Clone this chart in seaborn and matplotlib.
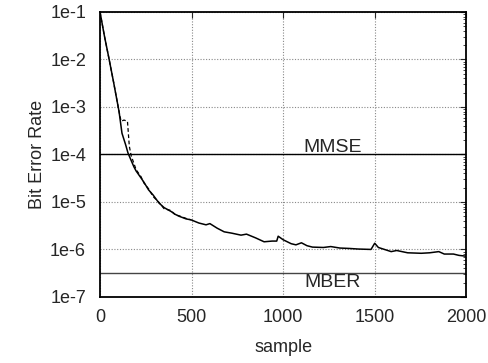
import numpy as np
import pandas as pd
import matplotlib
matplotlib.use("Agg")
import matplotlib.pyplot as plt
from matplotlib.ticker import LogLocator, NullFormatter
import seaborn as sns

# ------------------------------------------------------------
# Data
# ------------------------------------------------------------
sample_solid = [0, 25, 50, 75, 104, 120, 140, 153, 170, 185, 197, 224, 240, 265,
                290, 322, 350, 388, 410, 432, 470, 497, 540, 579, 600, 640, 678,
                720, 770, 800, 850, 896, 940, 965, 973, 1000, 1044, 1070, 1100,
                1130, 1160, 1220, 1260, 1310, 1360, 1410, 1480, 1500, 1520, 1590,
                1620, 1680, 1754, 1800, 1850, 1880, 1930, 1960, 2000]
ber_solid = [1e-1, 3e-2, 1e-2, 3.2e-3, 8e-4, 2.8e-4, 1.6e-4, 1.07e-4, 7.5e-5,
             5.5e-5, 4.5e-5, 3.2e-5, 2.6e-5, 1.8e-5, 1.4e-5, 9.5e-6, 7.6e-6,
             6.3e-6, 5.5e-6, 5.0e-6, 4.4e-6, 4.2e-6, 3.6e-6, 3.3e-6, 3.5e-6,
             2.8e-6, 2.35e-6, 2.2e-6, 2.0e-6, 2.1e-6, 1.75e-6, 1.45e-6, 1.5e-6,
             1.5e-6, 1.9e-6, 1.6e-6, 1.32e-6, 1.25e-6, 1.38e-6, 1.2e-6, 1.12e-6,
             1.1e-6, 1.15e-6, 1.07e-6, 1.05e-6, 1.02e-6, 1.0e-6, 1.35e-6, 1.1e-6,
             0.9e-6, 0.95e-6, 0.85e-6, 0.83e-6, 0.85e-6, 0.9e-6, 0.8e-6, 0.8e-6,
             0.75e-6, 0.72e-6]

sample_dashed = [0, 25, 50, 75, 104, 115, 131, 150, 160, 170, 197, 224, 240,
                 265, 290, 322, 350, 388, 410, 432, 470, 497]
ber_dashed = [1e-1, 3e-2, 1e-2, 3.2e-3, 8e-4, 5e-4, 5.3e-4, 5e-4, 1.5e-4,
              9.5e-5, 4.8e-5, 3.4e-5, 2.5e-5, 1.9e-5, 1.3e-5, 9.8e-6, 7.2e-6,
              6.6e-6, 5.4e-6, 5.1e-6, 4.5e-6, 4.2e-6]

mmse_level = 1e-4
mber_level = 3.2e-7

yticks = [1e-7, 1e-6, 1e-5, 1e-4, 1e-3, 1e-2, 1e-1]
ytick_labels = ["1e-7", "1e-6", "1e-5", "1e-4", "1e-3", "1e-2", "1e-1"]
xticks = [0, 500, 1000, 1500, 2000]

# ------------------------------------------------------------
# Plot
# ------------------------------------------------------------
sns.set_style("white")
plt.rcParams["font.family"] = ["Liberation Sans", "DejaVu Sans"]

fig = plt.figure(figsize=(4.89, 3.63), dpi=100)
ax = fig.add_axes([0.2045, 0.182, 0.749, 0.785])

df_solid = pd.DataFrame({"sample": sample_solid, "ber": ber_solid})
df_dashed = pd.DataFrame({"sample": sample_dashed, "ber": ber_dashed})

sns.lineplot(data=df_dashed, x="sample", y="ber", ax=ax, color="black",
             linestyle=(0, (3, 2)), linewidth=0.9)
sns.lineplot(data=df_solid, x="sample", y="ber", ax=ax, color="black",
             linewidth=1.1)

ax.axhline(mmse_level, color="black", linewidth=1.0)
ax.axhline(mber_level, color="#444444", linewidth=1.0)
ax.text(1268, mmse_level * 1.1, "MMSE", ha="center", va="baseline", fontsize=14)
ax.text(1268, mber_level / 1.05, "MBER", ha="center", va="top", fontsize=14)

ax.set_yscale("log")
ax.set_xlim(0, 2000)
ax.set_ylim(1e-7, 1e-1)
ax.set_xticks(xticks)
ax.set_xticklabels([str(t) for t in xticks])
ax.set_yticks(yticks)
ax.set_yticklabels(ytick_labels)
ax.yaxis.set_minor_locator(LogLocator(base=10, subs=[2, 3, 4, 5, 6, 7, 8, 9]))
ax.yaxis.set_minor_formatter(NullFormatter())

ax.grid(True, which="major", color="#888888", linestyle=(0, (1, 1.5)), linewidth=0.8)
ax.tick_params(which="both", direction="in", top=True, right=True, labelsize=13)
ax.tick_params(axis="y", which="major", pad=10)
ax.tick_params(axis="x", which="major", pad=9)
ax.tick_params(which="major", length=4)
ax.tick_params(which="minor", length=2)
for sp in ax.spines.values():
    sp.set_linewidth(1.3)
    sp.set_color("black")

ax.set_xlabel("sample", fontsize=13, labelpad=9)
ax.set_ylabel("Bit Error Rate", fontsize=13, labelpad=3)

fig.savefig("out.png", dpi=100)
